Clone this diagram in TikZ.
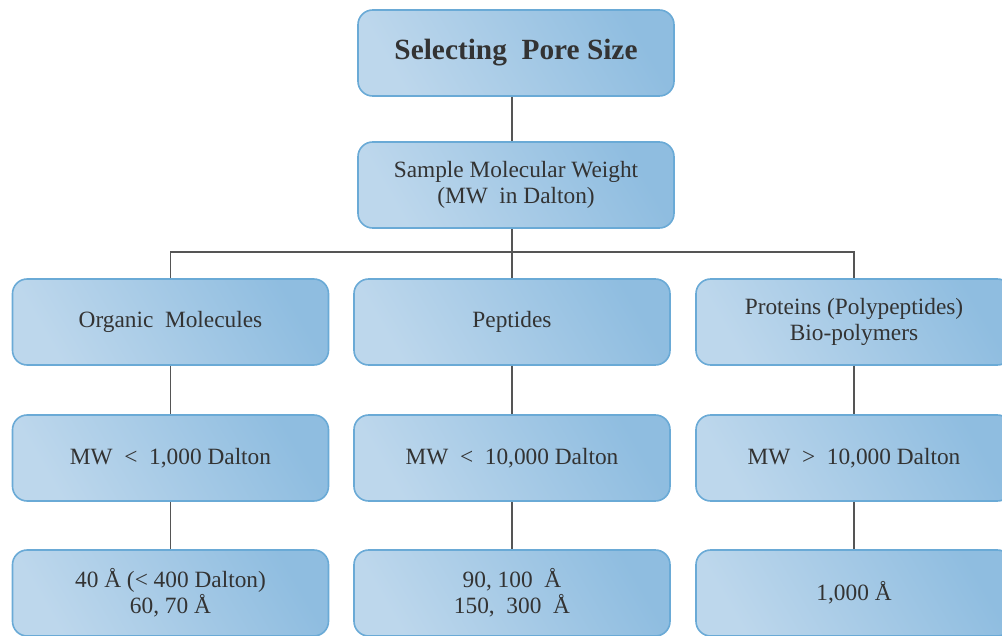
\documentclass[tikz,border=0pt]{standalone}
\usepackage{fontspec}
\setmainfont{Liberation Serif}
\usetikzlibrary{calc}
\definecolor{boxlight}{HTML}{BDD7EC}
\definecolor{boxdark}{HTML}{8FBDE0}
\definecolor{boxedge}{HTML}{6AAAD6}
\definecolor{txt}{HTML}{333333}
\definecolor{wire}{HTML}{555555}
\begin{document}
\begin{tikzpicture}[x=0.75pt,y=-0.75pt,
  box/.style={draw=boxedge, line width=1.2pt, rounded corners=11pt,
    left color=boxlight, right color=boxdark, shading angle=120,
    minimum width=237pt, minimum height=64.5pt, inner sep=0pt,
    align=center, text=txt, font=\fontsize{17.5}{19.2}\selectfont},
  title/.style={box, font=\fontsize{22}{24}\selectfont\bfseries},
  wirestyle/.style={draw=wire, line width=0.8pt}]
\useasboundingbox (0,0) rectangle (1002,635);
\clip (0,0) rectangle (1002,635);
% row 1, 2
\node[title] (sel) at (516,53) {Selecting\ \ Pore Size};
\node[box] (smw) at (516,185) {Sample Molecular Weight\\(MW\ \ in Dalton)};
% row 3
\node[box] (l1) at (170.5,322) {Organic\ \ Molecules};
\node[box] (c1) at (512,322) {Peptides};
\node[box] (r1) at (854,322) {Proteins (Polypeptides)\\Bio-polymers};
% row 4
\node[box] (l2) at (170.5,458) {MW\ \ {<}\ \ 1,000 Dalton};
\node[box] (c2) at (512,458) {MW\ \ {<}\ \ 10,000 Dalton};
\node[box] (r2) at (854,458) {MW\ \ {>}\ \ 10,000 Dalton};
% row 5
\node[box] (l3) at (170.5,593) {40 Å (< 400 Dalton)\\60, 70 Å};
\node[box] (c3) at (512,593) {90, 100\ \ Å\\150,\ \ 300\ \ Å};
\node[box] (r3) at (854,593) {1,000 Å};
% connectors
\coordinate (branch) at (512,252);
\draw[wirestyle] (sel.south -| c1.north) -- (smw.north -| c1.north);
\draw[wirestyle] (smw.south -| c1.north) -- (c1.north);
\draw[wirestyle] (l1.north) |- (branch) -| (r1.north);
\draw[wirestyle] (l1.south) -- (l2.north);
\draw[wirestyle] (c1.south) -- (c2.north);
\draw[wirestyle] (r1.south) -- (r2.north);
\draw[wirestyle] (l2.south) -- (l3.north);
\draw[wirestyle] (c2.south) -- (c3.north);
\draw[wirestyle] (r2.south) -- (r3.north);
\end{tikzpicture}
\end{document}
